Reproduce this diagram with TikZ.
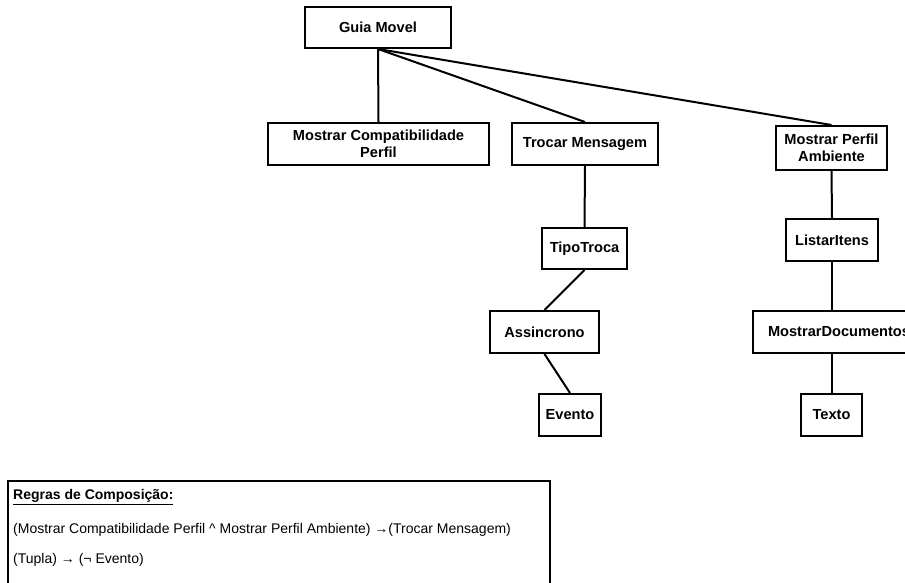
\documentclass[tikz,border=0pt]{standalone}
\usepackage{fontspec}
\setmainfont{Liberation Sans}
\begin{document}
\begin{tikzpicture}[x=1pt,y=-1pt,
  featbox/.style={draw=black, line width=2pt, fill=white, inner sep=0pt,
    align=center, font=\fontsize{14.6}{17.5}\selectfont\bfseries},
  link/.style={line width=2pt, draw=black},
  ruletext/.style={anchor=west, inner sep=0pt, font=\fontsize{14}{17}\selectfont}]
\useasboundingbox (0,0) rectangle (905,583);
\clip (0,0) rectangle (905,583);

% feature boxes
\node[featbox, minimum width=146pt, minimum height=41pt] (gm) at (378,27.5) {Guia Movel};
\node[featbox, minimum width=221pt, minimum height=42pt] (mcp) at (378.5,144) {Mostrar Compatibilidade\\Perfil};
\node[featbox, minimum width=146pt, minimum height=42pt] (tm) at (585,144) {Trocar Mensagem};
\node[featbox, minimum width=111pt, minimum height=44pt] (mpa) at (831.5,148) {Mostrar Perfil\\Ambiente};
\node[featbox, minimum width=85pt, minimum height=41pt] (tt) at (584.5,248.5) {TipoTroca};
\node[featbox, minimum width=109pt, minimum height=42pt] (as) at (544.5,332) {Assincrono};
\node[featbox, minimum width=62pt, minimum height=42pt] (ev) at (570,415) {Evento};
\node[featbox, minimum width=92pt, minimum height=42pt] (li) at (832,240) {ListarItens};
\node[featbox, minimum width=172pt, minimum height=42pt] (md) at (839,332) {MostrarDocumentos};
\node[featbox, minimum width=61pt, minimum height=42pt] (tx) at (831.5,415) {Texto};

% tree links
\draw[link] (gm.south) -- (mcp.north);
\draw[link] (gm.south) -- (tm.north);
\draw[link] (gm.south) -- (mpa.north);
\draw[link] (tm.south) -- (tt.north);
\draw[link] (tt.south) -- (as.north);
\draw[link] (as.south) -- (ev.north);
\draw[link] (mpa.south) -- (li.north);
\draw[link] (li.south) -- (li.south |- md.north);
\draw[link] (tx.north |- md.south) -- (tx.north);

% composition rules panel
\node[draw=black, line width=2pt, minimum width=542pt, minimum height=130pt,
  anchor=north west, inner sep=0pt] (rules) at (7,480) {};
\node[ruletext, font=\fontsize{14}{17}\selectfont\bfseries] (r1) at (13,497) {\underline{Regras de Composição:}};
\node[ruletext] (r2) at (13,530) {(Mostrar Compatibilidade Perfil \^{} Mostrar Perfil Ambiente) →(Trocar Mensagem)};
\node[ruletext] (r3) at (13,560) {(Tupla) → (¬ Evento)};
\end{tikzpicture}
\end{document}
